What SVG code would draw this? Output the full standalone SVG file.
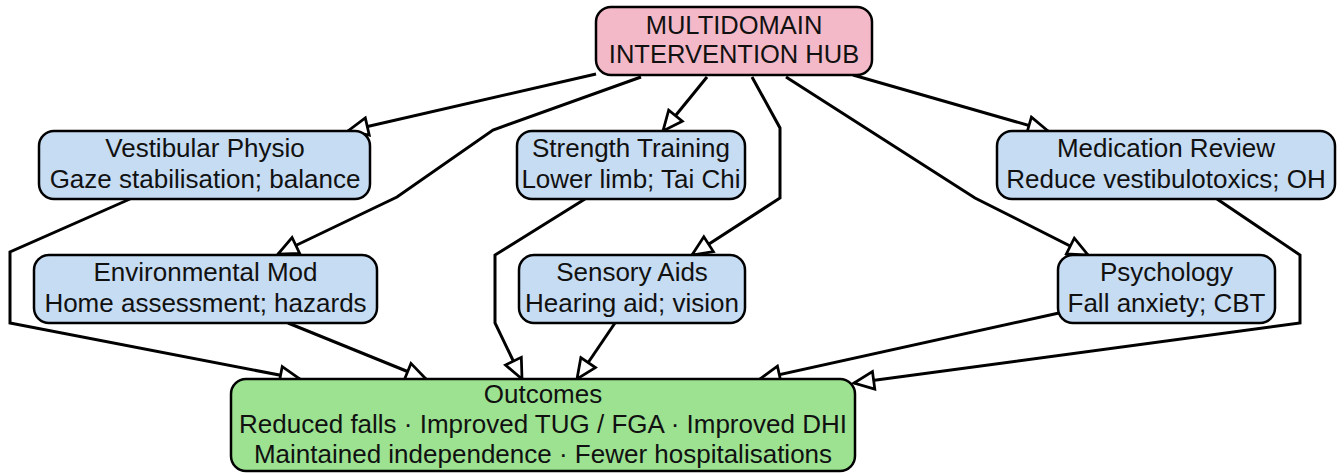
<svg xmlns="http://www.w3.org/2000/svg" width="1341" height="473" viewBox="0 0 1341 473">
<style>
.box{stroke:#000;stroke-width:2.5}
.hub{fill:#f4b9c8}
.dom{fill:#c6dcf3}
.out{fill:#9ce291}
text{font-family:"Liberation Sans",Arial,sans-serif;font-size:26px;fill:#111;text-anchor:middle}
.h text{font-size:25.5px}
.e{fill:none;stroke:#000;stroke-width:3;marker-end:url(#ah)}
</style>
<defs>
<marker id="ah" markerUnits="userSpaceOnUse" markerWidth="26" markerHeight="22" viewBox="-2 -2 23 20" refX="18" refY="8" orient="auto">
<path d="M0,0 L18,8 L0,16 Z" fill="#fff" stroke="#000" stroke-width="2.5"/>
</marker>
</defs>
<g id="connectors">
<polyline class="e" points="596,74 348,131"/>
<polyline class="e" points="641,77 493,130 397,197 278,254"/>
<polyline class="e" points="707,77 663,131"/>
<polyline class="e" points="752,77 780,128 780,198 692,255"/>
<polyline class="e" points="786,77 975,198 1088,255"/>
<polyline class="e" points="853,75 1048,131"/>
<polyline class="e" points="130,199 10,252 10,323 300,379"/>
<polyline class="e" points="288,323 426,379"/>
<polyline class="e" points="585,199 495,255 495,323 522,379"/>
<polyline class="e" points="615,323 577,379"/>
<polyline class="e" points="1059,313 760,379"/>
<polyline class="e" points="1217,199 1300,255 1300,323 854,383"/>
</g>
<g id="hub" class="h">
<rect class="box hub" x="596" y="7" width="276" height="68" rx="15"/>
<text x="734" y="34">MULTIDOMAIN</text>
<text x="734" y="63">INTERVENTION HUB</text>
</g>
<g id="vestibular">
<rect class="box dom" x="39" y="131" width="331" height="68" rx="15"/>
<text x="205" y="157">Vestibular Physio</text>
<text x="205" y="188">Gaze stabilisation; balance</text>
</g>
<g id="strength">
<rect class="box dom" x="517" y="131" width="228" height="68" rx="15"/>
<text x="631" y="157">Strength Training</text>
<text x="631" y="188">Lower limb; Tai Chi</text>
</g>
<g id="medication">
<rect class="box dom" x="997" y="131" width="338" height="68" rx="15"/>
<text x="1166" y="157">Medication Review</text>
<text x="1166" y="188">Reduce vestibulotoxics; OH</text>
</g>
<g id="environmental">
<rect class="box dom" x="34" y="255" width="343" height="68" rx="15"/>
<text x="205.5" y="281">Environmental Mod</text>
<text x="205.5" y="312">Home assessment; hazards</text>
</g>
<g id="sensory">
<rect class="box dom" x="519" y="255" width="226" height="68" rx="15"/>
<text x="632" y="281">Sensory Aids</text>
<text x="632" y="312">Hearing aid; vision</text>
</g>
<g id="psychology">
<rect class="box dom" x="1058" y="255" width="217" height="68" rx="15"/>
<text x="1166.5" y="281">Psychology</text>
<text x="1166.5" y="312">Fall anxiety; CBT</text>
</g>
<g id="outcomes">
<rect class="box out" x="231" y="379" width="624" height="92" rx="15"/>
<text x="543" y="403">Outcomes</text>
<text x="543" y="433">Reduced falls · Improved TUG / FGA · Improved DHI</text>
<text x="543" y="463">Maintained independence · Fewer hospitalisations</text>
</g>
</svg>
